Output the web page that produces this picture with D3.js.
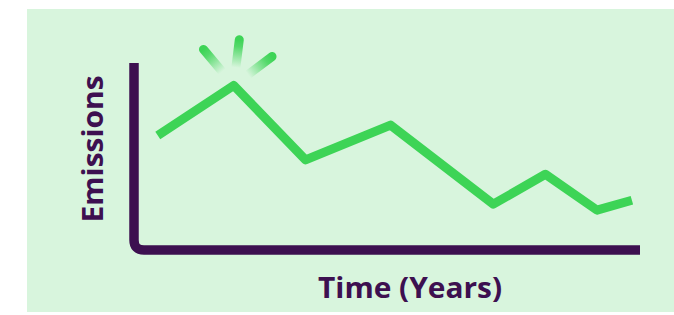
<!DOCTYPE html>
<html>
  <head>
    <meta charset="utf-8">
    <script type="text/javascript" src="https://d3js.org/d3.v7.min.js"></script>
    <title>Emissions over time</title>
  </head>
  <style media="screen">
    body { margin: 0; background: #fff; }
    text { font-family: "Open Sans", "Lato", sans-serif; font-weight: 700; fill: #3d1050; }
  </style>
  <body>

    <script type="text/javascript">

    // data (arbitrary units 0-100)
    var years     = [4.7, 19.7, 33.9, 50.7, 71.0, 81.3, 91.5, 98.4];
    var emissions = [61.2, 88.0, 48.2, 66.8, 24.5, 40.5, 21.3, 26.6];
    var xLabel = "Time (Years)";
    var yLabel = "Emissions";

    var width = 674, height = 315;
    var margin = {top: 63, right: 34, bottom: 65, left: 134};

    var svg = d3.select("body").append("svg")
        .attr("width", width)
        .attr("height", height);

    // light green panel
    svg.append("rect")
        .attr("x", 27)
        .attr("y", 9)
        .attr("width", width - 27)
        .attr("height", height - 12)
        .attr("fill", "#d8f5dd");

    var x = d3.scaleLinear().domain([0, 100]).range([margin.left, width - margin.right]);
    var y = d3.scaleLinear().domain([0, 100]).range([height - margin.bottom, margin.top]);

    var data = years.map(function(d, i) { return {year: d, value: emissions[i]}; });

    // axes as one rounded L shape
    var x0 = x.range()[0], x1 = x.range()[1], y0 = y.range()[0], y1 = y.range()[1], r = 10;
    svg.append("path")
        .attr("d", "M" + x0 + "," + y1 + "V" + (y0 - r) +
                   "Q" + x0 + "," + y0 + " " + (x0 + r) + "," + y0 + "H" + x1)
        .attr("fill", "none")
        .attr("stroke", "#3d1050")
        .attr("stroke-width", 9.5);

    // sparkle above the peak
    var peak = data[d3.maxIndex(data, function(d) { return d.value; })];
    var px = x(peak.year), py = y(peak.value);
    var defs = svg.append("defs");
    var rays = [
      {angle: -130, inner: 18, outer: 47},
      {angle: -83,  inner: 18, outer: 46},
      {angle: -37,  inner: 18, outer: 48}
    ];
    rays.forEach(function(ray, i) {
      var a = ray.angle * Math.PI / 180;
      var sx = px + Math.cos(a) * ray.inner, sy = py + Math.sin(a) * ray.inner;
      var ex = px + Math.cos(a) * ray.outer, ey = py + Math.sin(a) * ray.outer;
      var g = defs.append("linearGradient")
          .attr("id", "ray" + i)
          .attr("gradientUnits", "userSpaceOnUse")
          .attr("x1", sx).attr("y1", sy).attr("x2", ex).attr("y2", ey);
      g.append("stop").attr("offset", "0%").attr("stop-color", "#3dd456").attr("stop-opacity", 0);
      g.append("stop").attr("offset", "75%").attr("stop-color", "#3dd456").attr("stop-opacity", 0.85);
      g.append("stop").attr("offset", "100%").attr("stop-color", "#3dd456").attr("stop-opacity", 1);
      svg.append("line")
          .attr("x1", sx).attr("y1", sy).attr("x2", ex).attr("y2", ey)
          .attr("stroke", "url(#ray" + i + ")")
          .attr("stroke-width", 9)
          .attr("stroke-linecap", "round");
    });

    var line = d3.line()
      .x(function(d) { return x(d.year); })
      .y(function(d) { return y(d.value); });

    svg.append("path")
        .datum(data)
        .attr("d", line)
        .attr("fill", "none")
        .attr("stroke", "#3dd456")
        .attr("stroke-width", 9)
        .attr("stroke-linejoin", "round");

    // axis titles
    svg.append("text")
        .attr("x", 410)
        .attr("y", 298)
        .attr("text-anchor", "middle")
        .attr("font-size", 28)
        .attr("textLength", 184)
        .attr("lengthAdjust", "spacingAndGlyphs")
        .text(xLabel);

    svg.append("text")
        .attr("transform", "translate(103,149) rotate(-90)")
        .attr("text-anchor", "middle")
        .attr("font-size", 28)
        .attr("textLength", 147)
        .attr("lengthAdjust", "spacingAndGlyphs")
        .text(yLabel);

    </script>

  </body>
</html>
